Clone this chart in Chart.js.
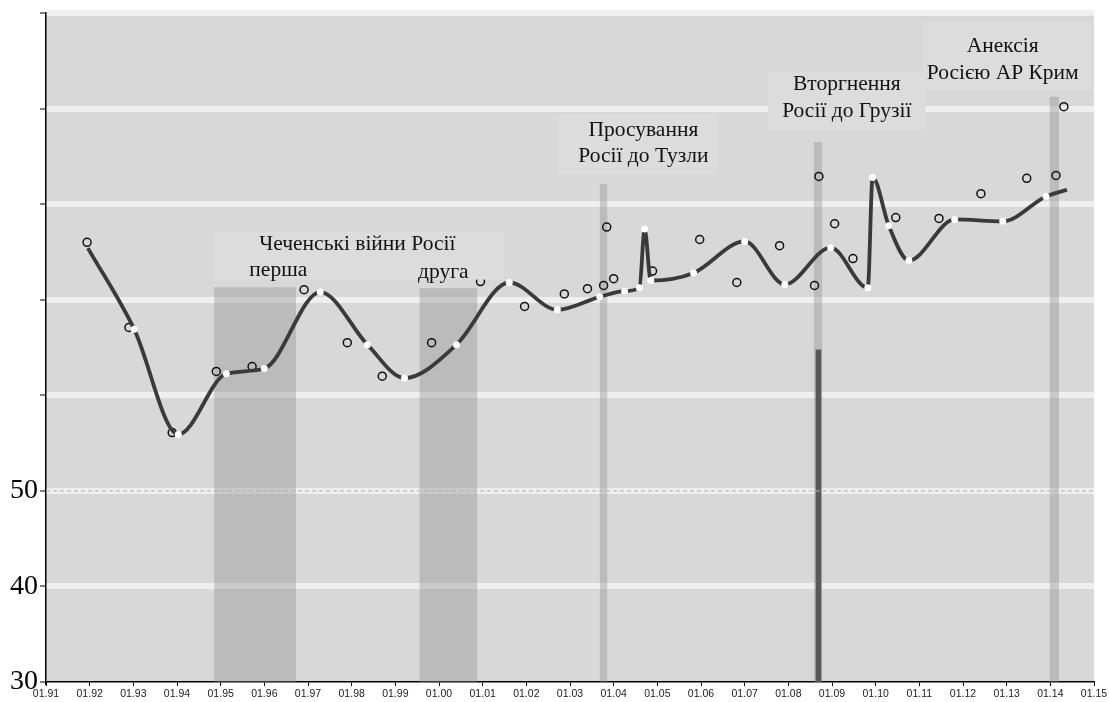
<!DOCTYPE html>
<html>
<head>
<meta charset="utf-8">
<script src="https://cdn.jsdelivr.net/npm/chart.js@4.4.1/dist/chart.umd.min.js"></script>
<style>
  html, body { margin: 0; padding: 0; background: #fff; }
  #wrap { width: 1109px; height: 702px; }
</style>
</head>
<body>
<div id="wrap"><canvas id="chart"></canvas></div>
<script>
// smoothed trend (dark line with white knots)
const trendYears = [1991.96, 1993.02, 1994.03, 1995.13, 1996.0, 1997.28, 1998.36, 1999.21, 2000.40, 2001.61,
  2002.71, 2003.68, 2004.25, 2004.59, 2004.71, 2004.85, 2005.83, 2007.0, 2007.92, 2008.97,
  2009.82, 2009.93, 2010.30, 2010.76, 2011.81, 2012.91, 2013.90, 2014.38];
const trendValues = [75.4, 66.9, 55.9, 62.25, 62.8, 70.8, 65.3, 61.8, 65.3, 71.8,
  68.95, 70.3, 70.9, 71.25, 77.4, 72.0, 72.8, 76.1, 71.6, 75.45,
  71.25, 82.8, 77.75, 74.1, 78.4, 78.2, 80.8, 81.5];

// individual survey results (open circles)
const pollYears = [1991.94, 1992.90, 1993.89, 1994.90, 1995.72, 1996.91, 1997.90, 1998.70, 1999.83, 2000.95,
  2001.96, 2002.87, 2003.40, 2003.77, 2004.0, 2003.84, 2004.89, 2005.97, 2006.82, 2007.80,
  2008.60, 2008.70, 2009.06, 2009.48, 2010.46, 2011.45, 2012.41, 2013.46, 2014.13, 2014.31];
const pollValues = [76.0, 67.1, 56.1, 62.5, 63.0, 71.05, 65.5, 62.0, 65.5, 71.9,
  69.3, 70.6, 71.15, 71.5, 72.2, 77.6, 73.0, 76.3, 71.8, 75.65,
  71.5, 82.9, 77.95, 74.3, 78.6, 78.5, 81.1, 82.7, 83.0, 90.2];

// event periods (shaded columns)
const bandStart = [1994.85, 1999.55, 2003.68, 2008.58, 2013.98];
const bandEnd   = [1996.73, 2000.88, 2003.86, 2008.78, 2014.20];
const bandTop   = [71.3, 71.2, 82.1, 86.5, 91.25];
// darker column inside the Georgia period
const darkStart = [2008.62];
const darkEnd   = [2008.76];
const darkTop   = [64.8];

const yTicks = [30, 40, 50, 60, 70, 80, 90, 100];
const shownYTicks = [30, 40, 50];
const xFirst = 1991, xLast = 2015;

// text notes: [x, y] in chart units
const notes = [
  { box: [1994.83, 2001.48, 77.1, 72.1] },
  { box: [2002.71, 2006.38, 89.4, 83.1] },
  { box: [2007.53, 2011.15, 93.8, 87.8] },
  { box: [2011.10, 2014.95, 99.0, 92.0] },
  { text: 'Чеченські війни Росії', x: 1998.13, y: 75.76 },
  { text: 'перша', x: 1996.32, y: 73.04 },
  { text: 'друга', x: 2000.10, y: 72.9 },
  { text: 'Просування', x: 2004.68, y: 87.7 },
  { text: 'Росії до Тузли', x: 2004.68, y: 85.0 },
  { text: 'Вторгнення', x: 2009.34, y: 92.5 },
  { text: 'Росії до Грузії', x: 2009.34, y: 89.7 },
  { text: 'Анексія', x: 2012.91, y: 96.5 },
  { text: 'Росією АР Крим', x: 2012.91, y: 93.7 }
];

const toXY = (xs, ys) => xs.map((x, i) => ({ x: x, y: ys[i] }));

const bandSets = bandStart.map((s, i) => ({
  type: 'line',
  data: [{ x: s, y: bandTop[i] }, { x: bandEnd[i], y: bandTop[i] }],
  fill: 'start',
  backgroundColor: 'rgba(140,140,140,0.38)',
  borderWidth: 0,
  pointRadius: 0,
  order: 10
}));
const darkSets = darkStart.map((s, i) => ({
  type: 'line',
  data: [{ x: s, y: darkTop[i] }, { x: darkEnd[i], y: darkTop[i] }],
  fill: 'start',
  backgroundColor: '#595959',
  borderWidth: 0,
  pointRadius: 0,
  order: 9
}));

const plotBackground = {
  id: 'plotBackground',
  beforeDraw(chart) {
    const { ctx, chartArea: a } = chart;
    ctx.save();
    ctx.fillStyle = '#d8d8d8';
    ctx.fillRect(a.left, a.top, a.right - a.left, a.bottom - a.top);
    ctx.restore();
  }
};

const notePlugin = {
  id: 'notes',
  afterDatasetsDraw(chart) {
    const { ctx, scales: { x, y } } = chart;
    ctx.save();
    notes.forEach(n => {
      if (n.box) {
        const [x0, x1, y0, y1] = n.box;
        ctx.fillStyle = '#dcdcdc';
        ctx.fillRect(x.getPixelForValue(x0), y.getPixelForValue(y0),
          x.getPixelForValue(x1) - x.getPixelForValue(x0), y.getPixelForValue(y1) - y.getPixelForValue(y0));
      }
    });
    ctx.fillStyle = '#111';
    ctx.font = '21.5px "Liberation Serif", "Times New Roman", serif';
    ctx.textAlign = 'center';
    ctx.textBaseline = 'middle';
    notes.forEach(n => {
      if (n.text) ctx.fillText(n.text, x.getPixelForValue(n.x), y.getPixelForValue(n.y));
    });
    ctx.restore();
  }
};

new Chart(document.getElementById('chart'), {
  type: 'scatter',
  data: {
    datasets: [
      {
        type: 'line',
        data: toXY(trendYears, trendValues),
        borderColor: '#3a3a3a',
        borderWidth: 3.8,
        tension: 0.4,
        cubicInterpolationMode: 'monotone',
        pointRadius: ctx => (ctx.dataIndex === 0 || ctx.dataIndex === trendYears.length - 1) ? 0 : 3.5,
        pointBackgroundColor: '#ffffff',
        pointBorderWidth: 0,
        fill: false,
        order: 1
      },
      {
        data: toXY(pollYears, pollValues),
        pointRadius: 4,
        pointBorderWidth: 1.5,
        pointBorderColor: '#111',
        pointBackgroundColor: 'rgba(0,0,0,0)',
        order: 5
      },
      {
        type: 'line',
        data: [{ x: xFirst, y: 50 }, { x: xLast, y: 50 }],
        borderColor: '#b0b0b0',
        borderWidth: 1,
        borderDash: [4, 3],
        pointRadius: 0,
        fill: false,
        order: 8
      },
      ...darkSets,
      ...bandSets
    ]
  },
  options: {
    responsive: true,
    maintainAspectRatio: false,
    animation: false,
    layout: { padding: { top: 13, right: 15, left: 0, bottom: 0 } },
    plugins: {
      legend: { display: false },
      tooltip: { enabled: false }
    },
    scales: {
      x: {
        type: 'linear',
        min: xFirst,
        max: xLast,
        afterFit: s => { s.height = 20; s.paddingLeft = 0; s.paddingRight = 0; },
        afterBuildTicks: s => {
          s.ticks = [];
          for (let v = xFirst; v <= xLast; v++) s.ticks.push({ value: v });
        },
        ticks: {
          autoSkip: false,
          maxRotation: 0,
          padding: 2,
          color: '#222',
          font: { family: '"Liberation Sans", Arial, sans-serif', size: 10.5 },
          callback: v => '01.' + String(v % 100).padStart(2, '0')
        },
        grid: { drawOnChartArea: false, drawTicks: true, tickLength: 4, tickColor: '#000' },
        border: { color: '#000', width: 1.5 }
      },
      y: {
        min: 30,
        max: 100,
        afterFit: s => { s.width = 46; s.paddingTop = 0; s.paddingBottom = 0; },
        afterBuildTicks: s => { s.ticks = yTicks.map(v => ({ value: v })); },
        ticks: {
          padding: 2,
          color: '#000',
          font: { family: '"Liberation Serif", "Times New Roman", serif', size: 28 },
          callback: v => shownYTicks.includes(v) ? String(v) : ''
        },
        grid: {
          color: c => c.tick && c.tick.value === 30 ? 'rgba(0,0,0,0)' : '#efefef',
          lineWidth: 6,
          drawTicks: true,
          tickLength: 6,
          tickColor: '#000',
          tickWidth: 1
        },
        border: { color: '#000', width: 1.5 }
      }
    }
  },
  plugins: [plotBackground, notePlugin]
});
</script>
</body>
</html>
